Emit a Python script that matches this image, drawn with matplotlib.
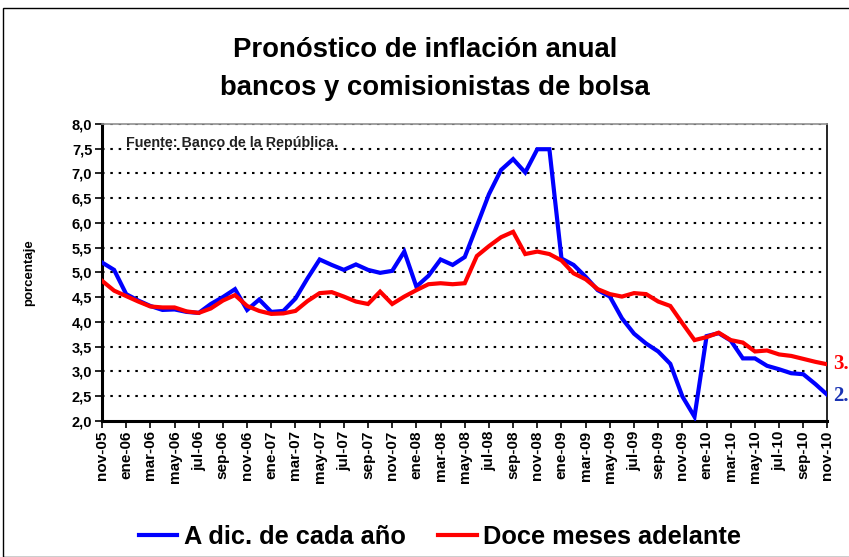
import matplotlib
matplotlib.use("Agg")
import matplotlib.pyplot as plt
from matplotlib.lines import Line2D
from matplotlib.patches import Rectangle

plt.rcParams['font.family'] = ['Liberation Sans', 'DejaVu Sans']

# Monthly observations, nov-2005 .. nov-2010
month_abbr = ["ene", "feb", "mar", "abr", "may", "jun",
              "jul", "ago", "sep", "oct", "nov", "dic"]
start_month, start_year, n_months = 11, 2005, 61

dic_cada_anio = [5.20, 5.05, 4.56, 4.43, 4.32, 4.24, 4.25, 4.20, 4.18, 4.36,
                 4.50, 4.66, 4.24, 4.45, 4.20, 4.22, 4.47, 4.88, 5.26, 5.15,
                 5.05, 5.16, 5.05, 4.99, 5.03, 5.42, 4.71, 4.93, 5.26, 5.15,
                 5.31, 5.94, 6.58, 7.07, 7.29, 7.02, 7.49, 7.49, 5.28, 5.15,
                 4.91, 4.64, 4.51, 4.07, 3.76, 3.56, 3.40, 3.15, 2.49, 2.08,
                 3.71, 3.77, 3.62, 3.26, 3.26, 3.11, 3.04, 2.96, 2.94, 2.74,
                 2.52]
doce_meses = [4.83, 4.63, 4.52, 4.41, 4.31, 4.29, 4.29, 4.21, 4.18, 4.27,
              4.43, 4.54, 4.32, 4.22, 4.16, 4.17, 4.22, 4.42, 4.58, 4.60,
              4.51, 4.41, 4.36, 4.61, 4.36, 4.51, 4.64, 4.76, 4.78, 4.76,
              4.78, 5.33, 5.53, 5.71, 5.82, 5.37, 5.42, 5.37, 5.24, 4.98,
              4.86, 4.66, 4.56, 4.51, 4.58, 4.56, 4.41, 4.32, 3.97, 3.63,
              3.69, 3.78, 3.63, 3.58, 3.40, 3.42, 3.34, 3.31, 3.25, 3.19,
              3.14]

last_blue_label = "2.5"
last_red_label = "3.1"

month_labels = []
for k in range(n_months):
    m = (start_month - 1 + k) % 12
    y = start_year + (start_month - 1 + k) // 12
    month_labels.append(f"{month_abbr[m]}-{y % 100:02d}")

y_ticks = [2.0, 2.5, 3.0, 3.5, 4.0, 4.5, 5.0, 5.5, 6.0, 6.5, 7.0, 7.5, 8.0]

W, H = 849, 557
fig = plt.figure(figsize=(W / 100, H / 100), dpi=100)
ax = fig.add_axes([102 / W, 1 - 420.7 / H, (827.5 - 102) / W, (420.7 - 124) / H])

x = list(range(n_months))
BLUE = (0, 0, 1)
RED = (1, 0, 0)
ax.plot(x, dic_cada_anio, color=BLUE, lw=3.0, solid_joinstyle='miter', zorder=4)
ax.plot(x, doce_meses, color=RED, lw=3.0, solid_joinstyle='miter', zorder=5)

ax.set_xlim(0, n_months - 1)
ax.set_ylim(2.0, 8.0)
ax.set_yticks(y_ticks)
ax.set_yticklabels([f"{v:.1f}".replace(".", ",") for v in y_ticks],
                   fontsize=10.5, fontweight='bold')
ax.set_xticks(x[::2])
ax.set_xticklabels(month_labels[::2], rotation=90, fontsize=11, fontweight='bold')
ax.tick_params(axis='both', direction='out', length=5, width=1.2, color='black', pad=2)

for yv in y_ticks[1:]:
    ax.axhline(yv, color='black', lw=1.5, ls=(0, (1.2, 2.8)), zorder=1)

ax.spines['left'].set_linewidth(2.2)
ax.spines['bottom'].set_linewidth(2.2)
ax.spines['top'].set_color('#909090')
ax.spines['top'].set_linewidth(1.2)
ax.spines['right'].set_linewidth(1.2)

ax.text(24 / 725.5, 1 - 19 / 296.7, "Fuente: Banco de la República.", transform=ax.transAxes,
        fontsize=10.3, fontweight='bold', color='#222222', va='center', zorder=6)

ax.set_ylabel("porcentaje", fontsize=9.5, fontweight='bold')
ax.yaxis.set_label_coords(-0.092, 0.5)

# end-of-series values, right of the plot area
ax.annotate(last_red_label, (x[-1], doce_meses[-1]), xytext=(4, 0),
            textcoords='offset points', va='center', ha='left', color=RED,
            fontsize=15, fontweight='bold', family='Liberation Serif',
            annotation_clip=False)
ax.annotate(last_blue_label, (x[-1], dic_cada_anio[-1]), xytext=(4, -1),
            textcoords='offset points', va='center', ha='left', color=(0.1, 0.2, 0.7),
            fontsize=15, fontweight='bold', family='Liberation Serif',
            annotation_clip=False)

fig.text(425 / W, 1 - 50 / H, "Pronóstico de inflación anual", ha='center', va='center',
         fontsize=19.8, fontweight='bold')
fig.text(435 / W, 1 - 88 / H, "bancos y comisionistas de bolsa", ha='center', va='center',
         fontsize=19.8, fontweight='bold')

handles = [Line2D([], [], color=BLUE, lw=3.0), Line2D([], [], color=RED, lw=3.0)]
fig.legend(handles, ["A dic. de cada año", "Doce meses adelante"],
           loc='center', bbox_to_anchor=(440 / W, 1 - 537 / H), ncol=2, frameon=False,
           prop={'weight': 'bold', 'size': 18.3}, handlelength=1.5, handletextpad=0.25,
           columnspacing=1.3)

fig.add_artist(Rectangle((3 / W, 0), 1, 1 - 8 / H, transform=fig.transFigure,
                         fill=False, edgecolor='black', lw=1.0))

fig.savefig("out.png", dpi=100)
